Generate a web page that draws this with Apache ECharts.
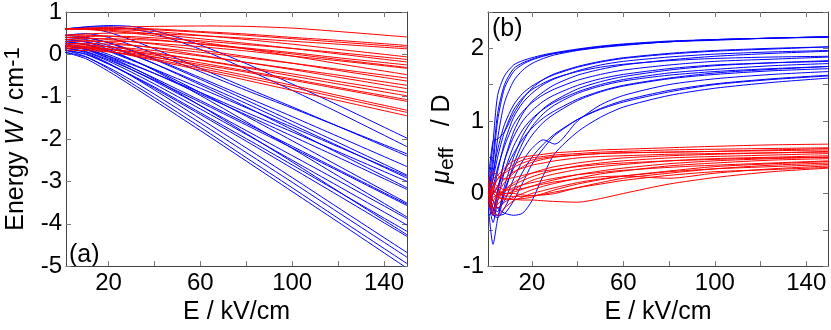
<!DOCTYPE html>
<html>
<head>
<meta charset="utf-8">
<script src="https://cdn.jsdelivr.net/npm/echarts@6/dist/echarts.min.js"></script>
<style>
    html, body { margin: 0; padding: 0; background: #fff; }
    #chart { width: 831px; height: 330px; }
</style>
</head>
<body>
<div id="chart"></div>
<script type="text/javascript">
    // (a) Stark energies, cm-1, sampled at these fields (kV/cm)
    var fieldA = [1, 10, 20, 30, 40, 60, 80, 100, 120, 150];
    var energyBlue = [
        [0.60, 0.65, 0.68, 0.66, 0.56, 0.22, -0.22, -0.70, -1.20, -1.98],
        [0.60, 0.64, 0.65, 0.60, 0.49, 0.12, -0.35, -0.85, -1.37, -2.18],
        [0.45, 0.49, 0.40, 0.22, 0.02, -0.41, -0.85, -1.27, -1.70, -2.35],
        [0.60, 0.62, 0.52, 0.34, 0.13, -0.33, -0.79, -1.24, -1.70, -2.40],
        [0.40, 0.39, 0.28, 0.10, -0.10, -0.55, -1.01, -1.47, -1.94, -2.65],
        [0.45, 0.40, 0.27, 0.08, -0.12, -0.59, -1.08, -1.58, -2.08, -2.85],
        [0.30, 0.23, 0.07, -0.14, -0.35, -0.80, -1.26, -1.72, -2.18, -2.88],
        [0.35, 0.30, 0.17, -0.01, -0.22, -0.68, -1.16, -1.66, -2.16, -2.92],
        [0.20, 0.13, -0.04, -0.24, -0.45, -0.90, -1.37, -1.83, -2.30, -3.00],
        [0.40, 0.35, 0.21, 0.01, -0.22, -0.72, -1.24, -1.78, -2.33, -3.15],
        [0.25, 0.17, 0.00, -0.22, -0.45, -0.94, -1.43, -1.93, -2.43, -3.19],
        [0.30, 0.24, 0.09, -0.12, -0.36, -0.90, -1.46, -2.04, -2.63, -3.51],
        [0.20, 0.12, -0.08, -0.31, -0.56, -1.09, -1.63, -2.17, -2.72, -3.54],
        [0.15, 0.07, -0.13, -0.36, -0.61, -1.13, -1.67, -2.21, -2.75, -3.57],
        [0.35, 0.29, 0.12, -0.12, -0.38, -0.97, -1.59, -2.22, -2.87, -3.84],
        [0.20, 0.11, -0.10, -0.36, -0.63, -1.21, -1.80, -2.39, -2.98, -3.88],
        [0.15, 0.06, -0.16, -0.42, -0.70, -1.29, -1.89, -2.50, -3.11, -4.03],
        [0.10, 0.01, -0.22, -0.49, -0.77, -1.38, -1.99, -2.61, -3.24, -4.18],
        [0.20, 0.13, -0.05, -0.30, -0.58, -1.21, -1.87, -2.54, -3.23, -4.26],
        [0.10, 0.00, -0.23, -0.50, -0.80, -1.42, -2.05, -2.69, -3.33, -4.30],
        [0.15, 0.04, -0.21, -0.51, -0.84, -1.52, -2.21, -2.91, -3.62, -4.68],
        [0.05, -0.06, -0.31, -0.61, -0.94, -1.62, -2.32, -3.02, -3.73, -4.79],
        [0.10, -0.05, -0.34, -0.68, -1.02, -1.72, -2.44, -3.15, -3.87, -4.94],
        [0.05, -0.10, -0.40, -0.74, -1.09, -1.80, -2.52, -3.24, -3.96, -5.05]
    ];
    var energyRed = [
        [0.60, 0.62, 0.64, 0.65, 0.66, 0.67, 0.66, 0.62, 0.54, 0.41],
        [0.60, 0.61, 0.62, 0.61, 0.60, 0.54, 0.48, 0.40, 0.33, 0.21],
        [0.60, 0.61, 0.61, 0.60, 0.58, 0.52, 0.45, 0.37, 0.29, 0.17],
        [0.45, 0.48, 0.50, 0.50, 0.49, 0.44, 0.38, 0.31, 0.24, 0.13],
        [0.60, 0.60, 0.59, 0.57, 0.54, 0.45, 0.35, 0.24, 0.12, -0.06],
        [0.40, 0.42, 0.43, 0.42, 0.39, 0.32, 0.23, 0.14, 0.04, -0.12],
        [0.60, 0.59, 0.57, 0.53, 0.48, 0.37, 0.26, 0.14, 0.01, -0.18],
        [0.35, 0.37, 0.37, 0.35, 0.33, 0.25, 0.15, 0.04, -0.08, -0.25],
        [0.45, 0.45, 0.43, 0.39, 0.35, 0.24, 0.13, 0.01, -0.12, -0.31],
        [0.30, 0.31, 0.31, 0.30, 0.26, 0.18, 0.08, -0.04, -0.15, -0.33],
        [0.60, 0.59, 0.55, 0.50, 0.44, 0.29, 0.13, -0.04, -0.22, -0.48],
        [0.25, 0.26, 0.24, 0.21, 0.16, 0.05, -0.08, -0.21, -0.35, -0.56],
        [0.40, 0.39, 0.35, 0.30, 0.24, 0.10, -0.05, -0.21, -0.38, -0.63],
        [0.20, 0.20, 0.18, 0.14, 0.09, -0.04, -0.19, -0.34, -0.49, -0.73],
        [0.35, 0.33, 0.29, 0.22, 0.15, -0.02, -0.19, -0.36, -0.54, -0.81],
        [0.15, 0.15, 0.12, 0.07, 0.01, -0.13, -0.30, -0.46, -0.64, -0.90],
        [0.25, 0.23, 0.18, 0.11, 0.04, -0.14, -0.32, -0.51, -0.70, -0.98],
        [0.20, 0.18, 0.13, 0.06, -0.02, -0.20, -0.39, -0.58, -0.78, -1.07],
        [0.10, 0.09, 0.06, 0.00, -0.07, -0.24, -0.42, -0.61, -0.81, -1.11],
        [0.20, 0.18, 0.12, 0.03, -0.06, -0.28, -0.50, -0.73, -0.97, -1.32],
        [0.15, 0.13, 0.07, -0.02, -0.11, -0.33, -0.55, -0.78, -1.02, -1.37],
        [0.20, 0.16, 0.08, -0.03, -0.14, -0.37, -0.61, -0.85, -1.09, -1.45]
    ];

    // (b) effective dipole, D
    var fieldB = [1, 3, 5, 8, 12, 16, 20, 25, 30, 40, 50, 60, 80, 100, 125, 150];
    var dipoleBlue = [
        [0.05, 0.70, 1.35, 1.62, 1.77, 1.83, 1.87, 1.91, 1.94, 1.99, 2.03, 2.06, 2.10, 2.12, 2.14, 2.16],
        [0.00, 0.40, 1.00, 1.45, 1.68, 1.78, 1.84, 1.89, 1.93, 1.98, 2.02, 2.05, 2.09, 2.12, 2.14, 2.16],
        [-0.10, 0.20, 0.75, 1.25, 1.55, 1.70, 1.79, 1.86, 1.91, 1.97, 2.01, 2.04, 2.09, 2.11, 2.14, 2.15],
        [0.00, 0.50, 1.10, 1.50, 1.72, 1.80, 1.85, 1.90, 1.93, 1.98, 2.02, 2.05, 2.09, 2.12, 2.14, 2.16],
        [0.20, 0.72, 0.75, 0.85, 1.10, 1.30, 1.45, 1.57, 1.65, 1.75, 1.82, 1.87, 1.93, 1.97, 2.00, 2.02],
        [0.00, 0.30, 0.60, 0.95, 1.22, 1.38, 1.48, 1.57, 1.64, 1.74, 1.81, 1.86, 1.92, 1.96, 1.99, 2.02],
        [-0.20, 0.00, 0.30, 0.70, 1.05, 1.25, 1.38, 1.50, 1.58, 1.69, 1.77, 1.82, 1.88, 1.92, 1.95, 1.97],
        [-0.10, -0.30, 0.00, 0.45, 0.85, 1.10, 1.27, 1.40, 1.50, 1.63, 1.71, 1.77, 1.84, 1.89, 1.93, 1.96],
        [0.00, 0.20, 0.50, 0.85, 1.15, 1.32, 1.43, 1.52, 1.59, 1.68, 1.74, 1.78, 1.83, 1.86, 1.88, 1.89],
        [0.00, 0.10, 0.35, 0.65, 0.95, 1.13, 1.25, 1.36, 1.44, 1.56, 1.64, 1.70, 1.77, 1.82, 1.85, 1.88],
        [0.10, -0.20, -0.25, 0.10, 0.50, 0.80, 1.00, 1.17, 1.28, 1.44, 1.54, 1.61, 1.70, 1.76, 1.80, 1.83],
        [-0.30, -0.25, 0.05, 0.45, 0.78, 1.00, 1.14, 1.27, 1.36, 1.49, 1.58, 1.64, 1.72, 1.77, 1.80, 1.82],
        [-0.10, -0.40, -0.10, 0.30, 0.65, 0.88, 1.03, 1.16, 1.26, 1.40, 1.50, 1.57, 1.66, 1.71, 1.76, 1.79],
        [0.00, -0.30, -0.30, 0.00, 0.40, 0.70, 0.92, 1.10, 1.22, 1.38, 1.48, 1.55, 1.63, 1.68, 1.72, 1.75],
        [0.05, 0.00, 0.10, 0.30, 0.55, 0.75, 0.90, 1.04, 1.14, 1.30, 1.41, 1.49, 1.59, 1.66, 1.71, 1.75],
        [-0.20, -0.70, -0.35, 0.05, 0.35, 0.60, 0.80, 0.98, 1.10, 1.28, 1.40, 1.48, 1.58, 1.64, 1.69, 1.72],
        [0.10, -0.10, -0.20, -0.10, 0.20, 0.45, 0.62, 0.74, 0.68, 1.00, 1.22, 1.35, 1.50, 1.58, 1.64, 1.68],
        [0.00, -0.20, -0.30, -0.28, -0.10, 0.15, 0.40, 0.62, 0.80, 1.02, 1.17, 1.28, 1.42, 1.51, 1.58, 1.63],
        [0.10, -0.30, -0.33, -0.20, 0.05, 0.30, 0.50, 0.68, 0.82, 1.02, 1.16, 1.26, 1.40, 1.50, 1.57, 1.62],
        [0.00, -0.10, -0.20, -0.27, -0.30, -0.27, -0.10, 0.25, 0.55, 0.85, 1.05, 1.19, 1.35, 1.45, 1.53, 1.59]
    ];
    var dipoleRed = [
        [0.10, 0.20, 0.25, 0.35, 0.45, 0.50, 0.52, 0.54, 0.56, 0.58, 0.60, 0.61, 0.63, 0.65, 0.67, 0.68],
        [-0.20, 0.05, 0.20, 0.30, 0.40, 0.46, 0.49, 0.51, 0.53, 0.55, 0.57, 0.58, 0.60, 0.61, 0.62, 0.63],
        [-0.10, 0.10, 0.20, 0.28, 0.36, 0.42, 0.46, 0.49, 0.51, 0.53, 0.55, 0.56, 0.57, 0.58, 0.60, 0.62],
        [0.15, -0.10, 0.00, 0.15, 0.28, 0.37, 0.43, 0.47, 0.50, 0.53, 0.55, 0.56, 0.57, 0.58, 0.59, 0.60],
        [0.10, 0.00, 0.10, 0.20, 0.30, 0.35, 0.39, 0.42, 0.45, 0.49, 0.51, 0.52, 0.54, 0.55, 0.56, 0.58],
        [0.00, -0.30, -0.10, 0.05, 0.15, 0.22, 0.28, 0.33, 0.37, 0.42, 0.46, 0.49, 0.52, 0.54, 0.56, 0.57],
        [0.20, 0.05, 0.00, 0.05, 0.12, 0.18, 0.23, 0.28, 0.32, 0.38, 0.42, 0.45, 0.49, 0.51, 0.53, 0.55],
        [-0.10, -0.20, -0.15, -0.05, 0.05, 0.12, 0.18, 0.23, 0.27, 0.33, 0.37, 0.40, 0.45, 0.48, 0.50, 0.52],
        [0.20, 0.30, 0.25, 0.20, 0.22, 0.25, 0.28, 0.31, 0.33, 0.37, 0.40, 0.42, 0.45, 0.47, 0.49, 0.50],
        [0.00, 0.10, 0.05, 0.00, 0.02, 0.06, 0.10, 0.15, 0.19, 0.26, 0.31, 0.35, 0.41, 0.45, 0.48, 0.50],
        [0.10, -0.10, -0.20, -0.12, -0.05, 0.00, 0.05, 0.10, 0.14, 0.21, 0.27, 0.31, 0.38, 0.42, 0.46, 0.48],
        [0.00, -0.05, -0.02, 0.03, 0.08, 0.12, 0.15, 0.18, 0.21, 0.26, 0.29, 0.32, 0.36, 0.39, 0.42, 0.45],
        [-0.05, 0.00, -0.05, -0.08, -0.08, -0.07, -0.05, 0.00, 0.05, 0.13, 0.19, 0.24, 0.31, 0.37, 0.41, 0.44],
        [0.00, -0.15, -0.05, 0.00, 0.00, -0.02, -0.03, -0.02, 0.00, 0.08, 0.15, 0.21, 0.28, 0.34, 0.39, 0.42],
        [0.05, -0.25, -0.30, -0.20, -0.10, -0.05, 0.00, 0.04, 0.08, 0.15, 0.20, 0.24, 0.30, 0.34, 0.37, 0.40],
        [0.10, 0.15, 0.10, 0.05, 0.05, 0.07, 0.10, 0.13, 0.16, 0.20, 0.23, 0.24, 0.21, 0.28, 0.34, 0.38],
        [0.00, 0.05, 0.00, -0.03, -0.04, -0.04, -0.03, -0.01, 0.02, 0.08, 0.13, 0.18, 0.25, 0.30, 0.33, 0.36],
        [0.05, 0.00, -0.05, -0.07, -0.08, -0.09, -0.09, -0.10, -0.11, -0.12, -0.07, 0.00, 0.13, 0.22, 0.30, 0.35]
    ];

    var tickValues = [20, 40, 60, 80, 100, 120, 140];
    var labelValues = [20, 60, 100, 140];

    var font = "'Liberation Sans', Arial, sans-serif";
    var axisCol = '#444';

    function xAxisOf(grid, min, max, pos) {
        var main = pos === 'bottom';
        return {
            type: 'value', gridIndex: grid, position: pos, min: min, max: max,
            axisLine: { show: true, onZero: false, lineStyle: { color: axisCol, width: 1 } },
            axisTick: { show: true, inside: true, length: 5, customValues: tickValues, lineStyle: { color: '#777' } },
            axisLabel: { show: main, customValues: labelValues, color: '#000', fontSize: 24, fontFamily: font, margin: 5 },
            splitLine: { show: false },
            name: main ? 'E / kV/cm' : '', nameLocation: 'middle', nameGap: 26,
            nameTextStyle: { color: '#000', fontSize: 25, fontFamily: font }
        };
    }

    function yAxisOf(grid, min, max, step, pos, name) {
        var main = pos === 'left';
        var ax = {
            type: 'value', gridIndex: grid, position: pos, min: min, max: max, interval: step,
            axisLine: { show: true, onZero: false, lineStyle: { color: axisCol, width: 1 } },
            axisTick: { show: true, inside: true, length: 5, lineStyle: { color: '#777' } },
            axisLabel: {
                show: main, color: '#000', fontSize: 24, fontFamily: font, margin: 4,
                formatter: function (v) { return Math.abs(v - Math.round(v)) < 1e-6 ? String(Math.round(v)) : ''; }
            },
            splitLine: { show: false }
        };
        if (main) {
            ax.name = name.text;
            ax.nameLocation = 'middle';
            ax.nameGap = name.gap;
            ax.nameTextStyle = { color: '#000', fontSize: 25, fontFamily: font, rich: name.rich };
        }
        return ax;
    }

    var series = [];
    function addLines(list, xs, color, xi, yi) {
        list.forEach(function (ys) {
            series.push({
                type: 'line', xAxisIndex: xi, yAxisIndex: yi,
                data: xs.map(function (x, i) { return [x, ys[i]]; }),
                symbol: 'none', smooth: 0.25, silent: true,
                lineStyle: { color: color, width: 1 }, itemStyle: { color: color }
            });
        });
    }
    addLines(energyBlue, fieldA, '#0000ff', 0, 0);
    addLines(energyRed, fieldA, '#ff0000', 0, 0);
    addLines(dipoleBlue, fieldB, '#0000ff', 2, 2);
    addLines(dipoleRed, fieldB, '#ff0000', 2, 2);

    var chart = echarts.init(document.getElementById('chart'));
    chart.setOption({
        animation: false,
        backgroundColor: '#fff',
        grid: [
            { left: 66, right: 424, top: 12, bottom: 54 },
            { left: 488, right: 3, top: 12, bottom: 54 }
        ],
        xAxis: [
            xAxisOf(0, 1.5, 150, 'bottom'), xAxisOf(0, 1.5, 150, 'top'),
            xAxisOf(1, 0.8, 149.5, 'bottom'), xAxisOf(1, 0.8, 149.5, 'top')
        ],
        yAxis: [
            yAxisOf(0, -5, 1, 1, 'left', {
                text: 'Energy {i|W} / cm{s|-1}', gap: 36,
                rich: {
                    i: { fontStyle: 'italic', fontSize: 25, fontFamily: font, color: '#000' },
                    s: { fontSize: 22, fontFamily: font, color: '#000', padding: [0, 0, 6, 0] }
                }
            }),
            yAxisOf(0, -5, 1, 1, 'right'),
            yAxisOf(1, -1, 2.5, 0.5, 'left', {
                text: '{m|μ}{b|eff}   / D', gap: 30,
                rich: {
                    m: { fontStyle: 'italic', fontSize: 25, fontFamily: font, color: '#000' },
                    b: { fontSize: 21, fontFamily: font, color: '#000', padding: [10, 0, 0, 0] }
                }
            }),
            yAxisOf(1, -1, 2.5, 0.5, 'right')
        ],
        graphic: [
            { type: 'text', left: 69, top: 243, style: { text: '(a)', fontSize: 25, fontFamily: font, fill: '#000' } },
            { type: 'text', left: 492, top: 17, style: { text: '(b)', fontSize: 25, fontFamily: font, fill: '#000' } }
        ],
        series: series
    });
</script>
</body>
</html>
